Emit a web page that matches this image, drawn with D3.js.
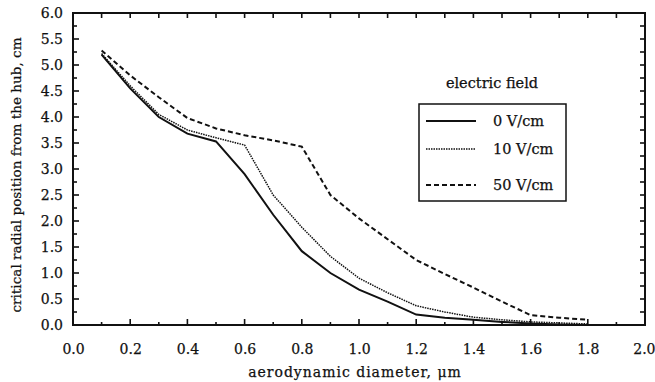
<!DOCTYPE html>
<html>
<head>
<meta charset="utf-8">
<script src="https://cdn.jsdelivr.net/npm/d3@7"></script>
<style>
  body { margin: 0; background: #fff; }
  text { font-family: "DejaVu Serif", "Liberation Serif", serif; fill: #111; stroke: #111; stroke-width: 0.25; }
</style>
</head>
<body>
<svg></svg>
<script>

var diameter = [0.1, 0.2, 0.3, 0.4, 0.5, 0.6, 0.7, 0.8, 0.9, 1.0, 1.1, 1.2, 1.3, 1.4, 1.5, 1.6, 1.7, 1.8]

var field0  = [5.2, 4.55, 4.0, 3.68, 3.53, 2.9, 2.12, 1.42, 1.0, 0.68, 0.45, 0.2, 0.14, 0.1, 0.06, 0.03, 0.01, 0.0]
var field10 = [5.22, 4.6, 4.05, 3.75, 3.6, 3.46, 2.5, 1.88, 1.32, 0.9, 0.62, 0.37, 0.25, 0.15, 0.1, 0.06, 0.04, 0.02]
var field50 = [5.28, 4.8, 4.38, 3.98, 3.78, 3.65, 3.55, 3.43, 2.5, 2.05, 1.65, 1.25, 0.98, 0.72, 0.45, 0.19, 0.14, 0.1]

var seriesNames = ["0 V/cm", "10 V/cm", "50 V/cm"]
var xTickLabels = ["0.0", "0.2", "0.4", "0.6", "0.8", "1.0", "1.2", "1.4", "1.6", "1.8", "2.0"]
var yTickLabels = ["0.0", "0.5", "1.0", "1.5", "2.0", "2.5", "3.0", "3.5", "4.0", "4.5", "5.0", "5.5", "6.0"]

var width = 655
var height = 382
var margins = { top: 13, bottom: 57, left: 73, right: 10 }

var svg = d3.select("svg")
  .attr("width", width)
  .attr("height", height)

var xScale = d3.scaleLinear()
  .domain([0, 2])
  .range([margins.left, width - margins.right])

var yScale = d3.scaleLinear()
  .domain([0, 6])
  .range([height - margins.bottom, margins.top])

// frame
svg.append("rect")
  .attr("x", xScale(0))
  .attr("y", yScale(6))
  .attr("width", xScale(2) - xScale(0))
  .attr("height", yScale(0) - yScale(6))
  .attr("fill", "none")
  .attr("stroke", "#111")
  .attr("stroke-width", 2)

// ticks, all pointing into the plot
var ticks = svg.append("g")

var addXTicks = function(values, yVal, len)
{
  values.forEach(function(d) {
    ticks.append("line")
      .attr("x1", xScale(d))
      .attr("x2", xScale(d))
      .attr("y1", yScale(yVal))
      .attr("y2", yScale(yVal) + len)
      .attr("stroke", "#111")
      .attr("stroke-width", 1.6)
  })
}

var addYTicks = function(values, xVal, len)
{
  values.forEach(function(d) {
    ticks.append("line")
      .attr("y1", yScale(d))
      .attr("y2", yScale(d))
      .attr("x1", xScale(xVal))
      .attr("x2", xScale(xVal) + len)
      .attr("stroke", "#111")
      .attr("stroke-width", 1.6)
  })
}

addXTicks(d3.range(0.2, 2, 0.2), 0, -6)
addXTicks(d3.range(0.1, 2, 0.2), 0, -3)
addXTicks(d3.range(0.1, 1.95, 0.1), 6, 5)
addYTicks(d3.range(0.5, 6, 0.5), 0, 6)
addYTicks(d3.range(0.25, 6, 0.5), 0, 4)
addYTicks(d3.range(0.25, 6, 0.25), 2, -5)

// tick labels
var xAxis = d3.axisBottom(xScale)
  .tickValues(d3.range(0, 2.01, 0.2))
  .tickFormat(function(d, i) { return xTickLabels[i] })
  .tickSize(0)
  .tickPadding(19)

var gx = svg.append("g")
  .attr("transform", "translate(0," + yScale(0) + ")")
  .call(xAxis)
gx.select(".domain").remove()
gx.selectAll("text").style("font-size", "14px")
gx.selectAll("text").filter(function(d, i) { return i == xTickLabels.length - 1 })
  .attr("text-anchor", "end")
  .attr("x", 10)

var yAxis = d3.axisLeft(yScale)
  .tickValues(d3.range(0, 6.01, 0.5))
  .tickFormat(function(d, i) { return yTickLabels[i] })
  .tickSize(0)
  .tickPadding(10)
var gy = svg.append("g")
  .attr("transform", "translate(" + xScale(0) + ",0)")
  .call(yAxis)
gy.select(".domain").remove()
gy.selectAll("text").style("font-size", "14px")

// axis titles
svg.append("text")
  .attr("x", 355)
  .attr("y", 377)
  .attr("text-anchor", "middle")
  .style("font-size", "14px")
  .style("letter-spacing", "1px")
  .text("aerodynamic diameter, μm")

svg.append("text")
  .attr("transform", "translate(21," + 175 + ") rotate(-90)")
  .attr("text-anchor", "middle")
  .style("font-size", "13.6px")
  .text("critical radial position from the hub, cm")

// lines
var styles = [
  { data: field0,  dash: null,  width: 2 },
  { data: field10, dash: "1.5,1", width: 1.5 },
  { data: field50, dash: "5,3", width: 2 }
]

var drawLine = d3.line()
  .x(function(d, i) { return xScale(diameter[i]) })
  .y(function(d) { return yScale(d) })

styles.forEach(function(s) {
  svg.append("path")
    .datum(s.data)
    .attr("d", drawLine)
    .attr("fill", "none")
    .attr("stroke", "#111")
    .attr("stroke-width", s.width)
    .attr("stroke-dasharray", s.dash)
})

// legend
svg.append("text")
  .attr("x", 492)
  .attr("y", 88)
  .attr("text-anchor", "middle")
  .style("font-size", "14.5px")
  .text("electric field")

svg.append("rect")
  .attr("x", 419)
  .attr("y", 104)
  .attr("width", 147)
  .attr("height", 97)
  .attr("fill", "#fff")
  .attr("stroke", "#111")
  .attr("stroke-width", 1.5)

var legendY = [121, 149, 185]
styles.forEach(function(s, i) {
  svg.append("line")
    .attr("x1", 426).attr("x2", 476)
    .attr("y1", legendY[i]).attr("y2", legendY[i])
    .attr("stroke", "#111")
    .attr("stroke-width", s.width)
    .attr("stroke-dasharray", s.dash)
  svg.append("text")
    .attr("x", 493)
    .attr("y", legendY[i] + 5)
    .style("font-size", "14.5px")
    .text(seriesNames[i])
})

</script>
</body>
</html>
